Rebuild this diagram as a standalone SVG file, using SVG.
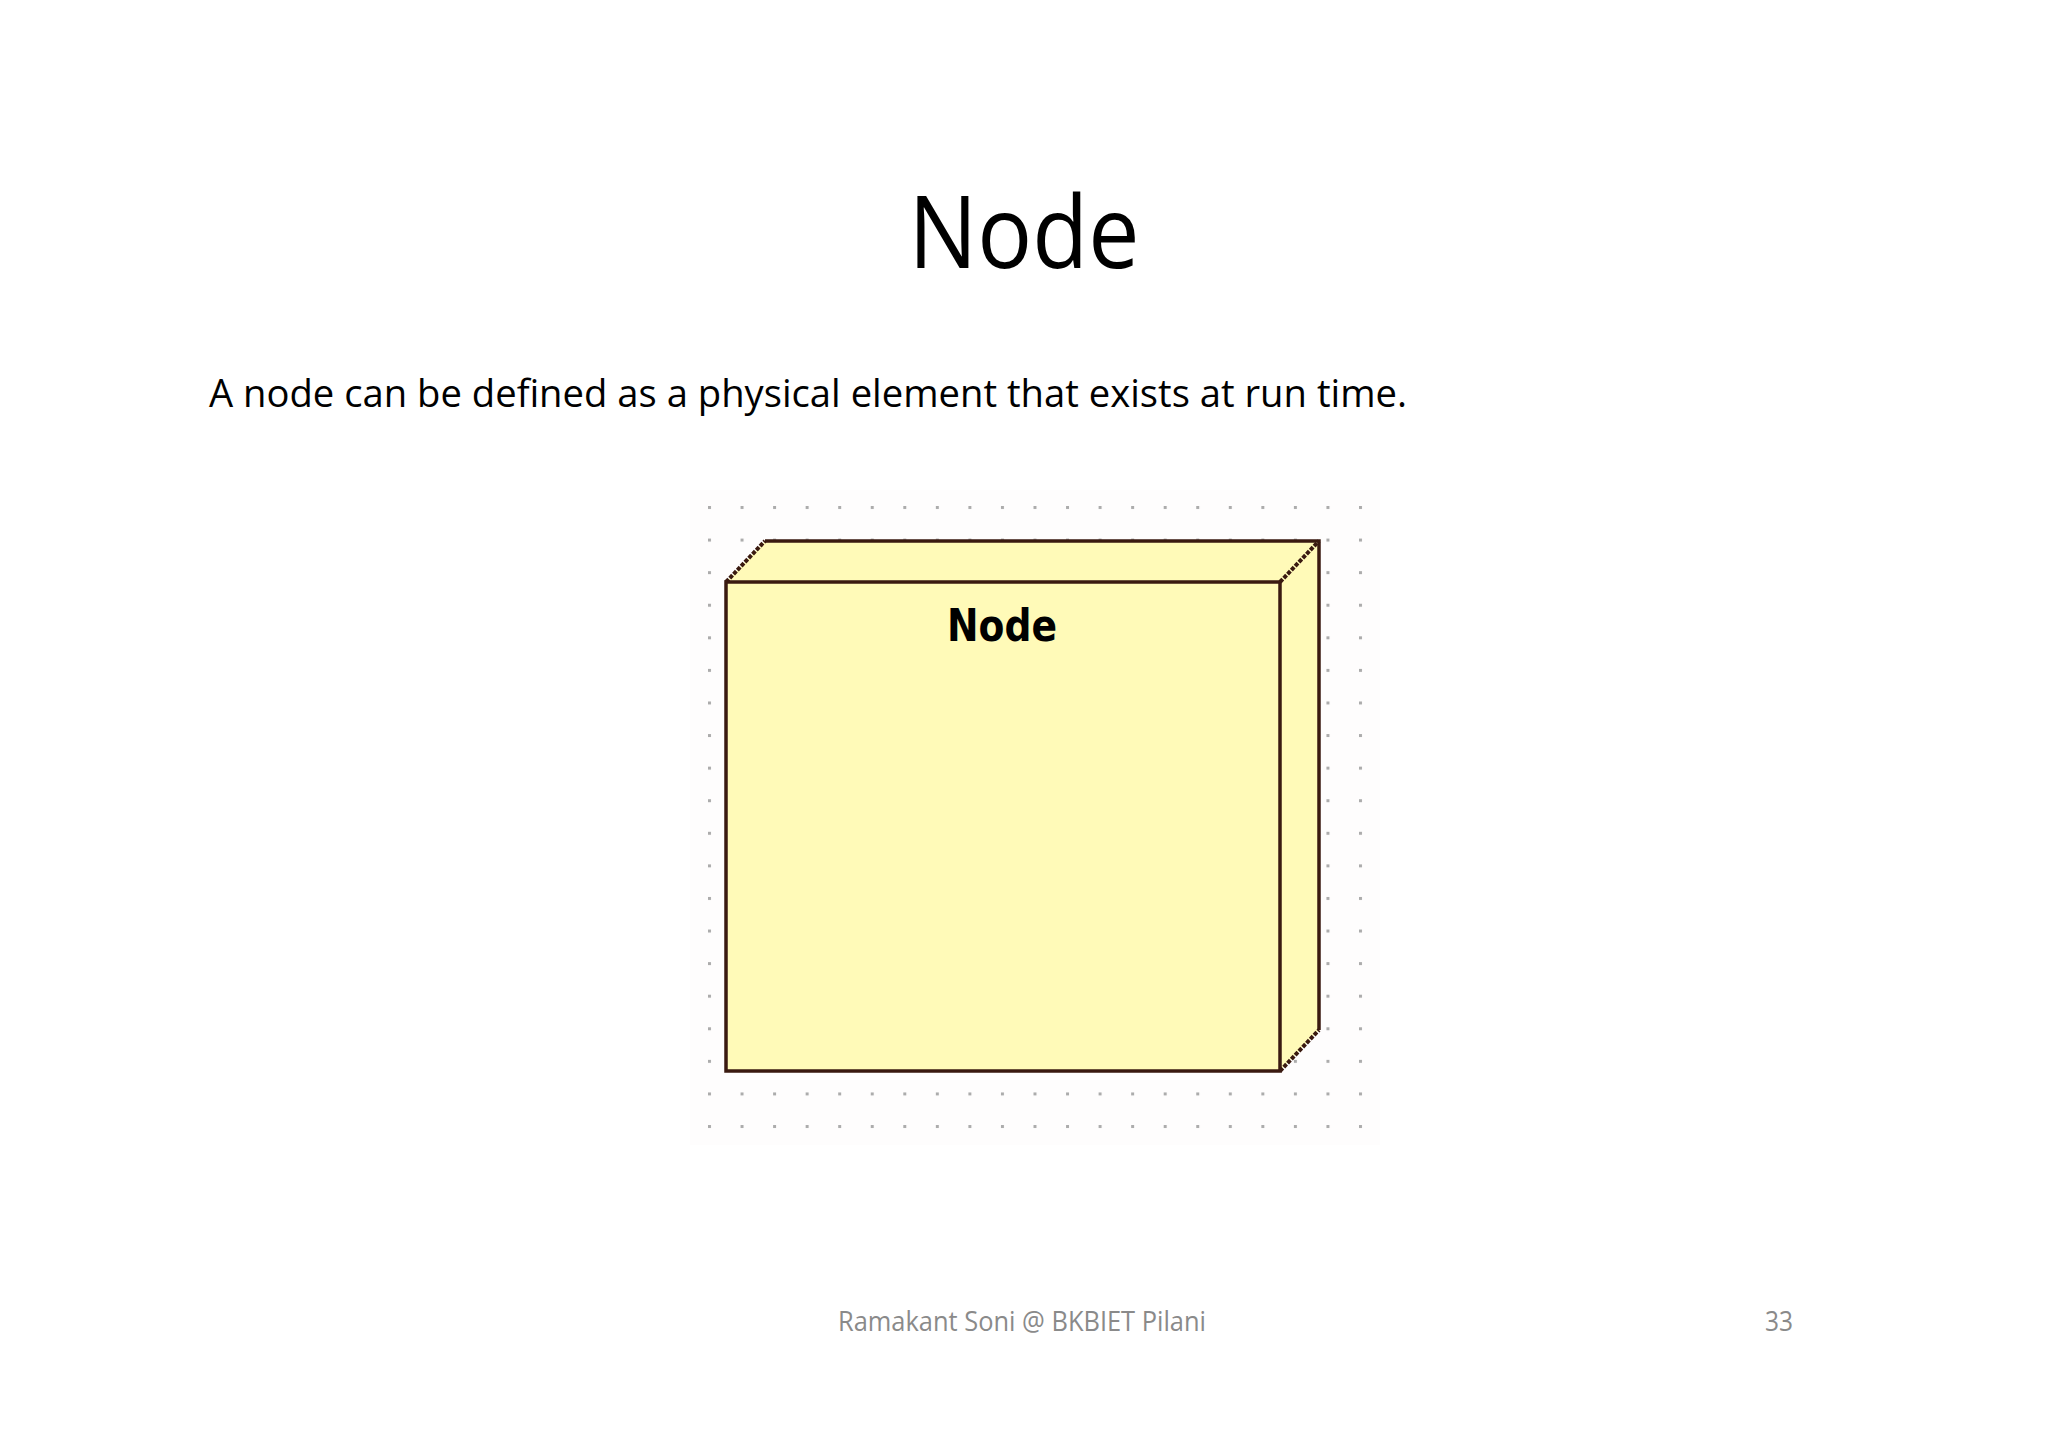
<svg xmlns="http://www.w3.org/2000/svg" width="2048" height="1448" viewBox="0 0 2048 1448">
  <style>
    .title { font-family: "Open Sans", "Liberation Sans", sans-serif; font-size: 101px; fill: #000; }
    .body { font-family: "Open Sans", "Liberation Sans", sans-serif; font-size: 38px; fill: #000; }
    .foot { font-family: "Open Sans", "Liberation Sans", sans-serif; font-size: 27px; fill: #8a8a8a; }
    .face { fill: #fffab8; stroke: #3a1a10; stroke-width: 3.5; stroke-linejoin: miter; }
    .diag { stroke: #3a1a10; stroke-width: 4; stroke-dasharray: 4 1.5; fill: none; }
    .label { font-family: "DejaVu Sans", "Liberation Sans", sans-serif; font-weight: bold; font-size: 45px; fill: #000; }
  </style>
  <defs>
    <pattern id="dots" x="708" y="506" width="32.55" height="32.58" patternUnits="userSpaceOnUse">
      <rect x="0" y="0" width="3" height="3" fill="#acacac"/>
    </pattern>
  </defs>
  <rect width="2048" height="1448" fill="#ffffff"/>
  <rect x="690" y="490" width="690" height="655" fill="#fefdfd"/>
  <rect x="706" y="504" width="660" height="627" fill="url(#dots)"/>

  <text class="title" x="1024" y="268" text-anchor="middle" textLength="231" lengthAdjust="spacingAndGlyphs">Node</text>
  <text class="body" x="209" y="407" textLength="1198" lengthAdjust="spacingAndGlyphs">A node can be defined as a physical element that exists at run time.</text>

  <g id="node">
    <polygon class="face" points="726,582 765,541 1319,541 1280,582" style="stroke:none"/>
    <polygon class="face" points="1280,582 1319,541 1319,1030 1280,1071" style="stroke:none"/>
    <polyline points="765,541 1319,541 1319,1030" fill="none" stroke="#3a1a10" stroke-width="3.5"/>
    <line class="diag" x1="726" y1="582" x2="765" y2="541"/>
    <line class="diag" x1="1280" y1="582" x2="1319" y2="541"/>
    <line class="diag" x1="1280" y1="1071" x2="1319" y2="1030"/>
    <rect class="face" x="726" y="582" width="554" height="489"/>
    <text class="label" x="1002" y="641" text-anchor="middle" textLength="110" lengthAdjust="spacingAndGlyphs">Node</text>
  </g>
  <g id="connectors"/>

  <text class="foot" x="838" y="1331" textLength="368" lengthAdjust="spacingAndGlyphs">Ramakant Soni @ BKBIET Pilani</text>
  <text class="foot" x="1765" y="1331" textLength="28" lengthAdjust="spacingAndGlyphs">33</text>
</svg>
